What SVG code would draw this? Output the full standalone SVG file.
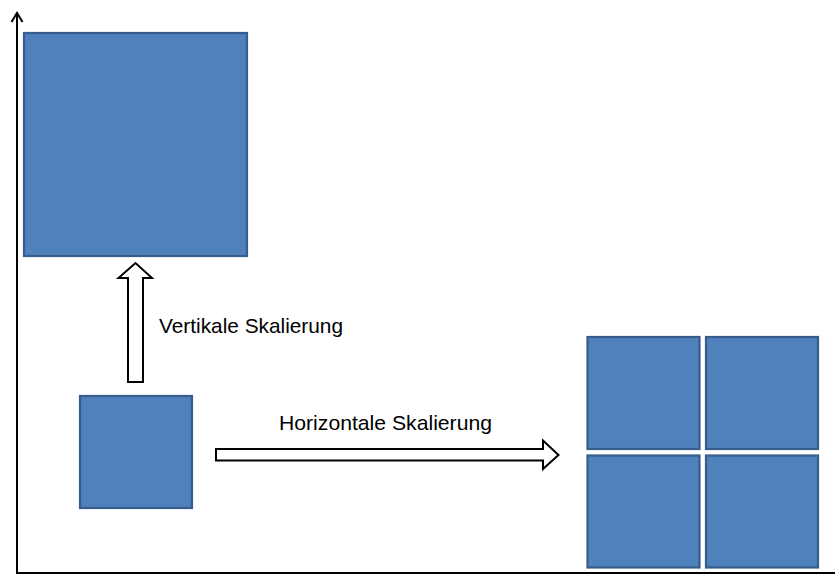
<svg xmlns="http://www.w3.org/2000/svg" width="835" height="574" viewBox="0 0 835 574">
<style>
.box{fill:#4F81BD;stroke:#385D8A;stroke-width:2.2}
.blk{fill:#fff;stroke:#000;stroke-width:2;stroke-linejoin:miter}
.axis{fill:none;stroke:#000;stroke-width:2}
.lbl{font-family:"Liberation Sans",Arial,sans-serif;font-size:21px;fill:#000}
</style>
<rect width="835" height="574" fill="#fff"/>
<g id="axes">
<path class="axis" d="M17,14 V573 H835"/>
<path class="axis" d="M11.5,22 L17,13 L22.5,22"/>
</g>
<g id="large-square"><rect class="box" x="24" y="33" width="223" height="223"/></g>
<g id="small-square"><rect class="box" x="80" y="396" width="112" height="112"/></g>
<g id="grid">
<rect class="box" x="587.5" y="337" width="112" height="112"/>
<rect class="box" x="706" y="337" width="112" height="112"/>
<rect class="box" x="587.5" y="455.5" width="112" height="112"/>
<rect class="box" x="706" y="455.5" width="112" height="112"/>
</g>
<g id="connectors">
<path class="blk" d="M128,382 V278 H118.5 L135.5,263 L152,278 H143 V382 Z"/>
<path class="blk" d="M216,449 H543 V440.5 L558.5,455 L543,469 V460.5 H216 Z"/>
</g>
<g id="labels">
<text class="lbl" x="159" y="333" textLength="184" lengthAdjust="spacingAndGlyphs">Vertikale Skalierung</text>
<text class="lbl" x="279" y="430" textLength="213" lengthAdjust="spacingAndGlyphs">Horizontale Skalierung</text>
</g>
</svg>
